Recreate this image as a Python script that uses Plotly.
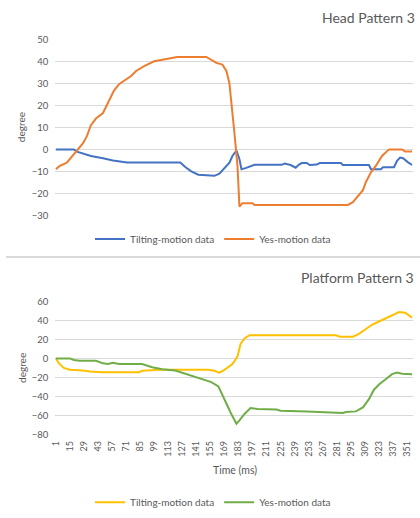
import plotly.graph_objects as go

# ---------------- data ----------------
# Head Pattern 3 — Tilting-motion data
head_tilt_t = [1, 19, 22, 28, 36, 48, 58, 72, 125, 130, 136, 143, 159, 164, 169, 174, 177, 181,
               184, 186, 190, 195, 199, 226, 229, 235, 240, 243, 246, 251, 254, 261, 264, 285,
               287, 313, 315, 325, 327, 338, 341, 344, 347, 352, 356]
head_tilt_v = [0, 0, -1, -2, -3, -4, -5, -6, -6, -8, -10, -11.5, -12, -11, -8.5, -6, -3, -0.5,
               -4.5, -9, -8.5, -7.7, -7, -7, -6.4, -7.1, -8.3, -7, -6.2, -6.2, -7.1, -6.9, -6.2, -6.2,
               -7.1, -7.1, -9, -9, -8.1, -8.1, -5.2, -3.7, -4, -5.9, -7.1]

# Head Pattern 3 — Yes-motion data
head_yes_t = [1, 5, 12, 18, 23, 28, 32, 36, 41, 48, 53, 59, 64, 71, 76, 81, 89, 99, 107, 114,
              122, 151, 155, 161, 167, 171, 174, 176, 179, 182, 184, 187, 197, 199, 292, 297, 302,
              307, 310, 315, 321, 326, 333, 346, 349, 356]
head_yes_v = [-9, -7.5, -6, -3, 0, 2.7, 6, 11, 14, 16.5, 21, 26.7, 29.6, 32, 33.3, 35.6, 37.8, 40,
              40.8, 41.2, 42, 42, 40.8, 39.3, 38.5, 35.6, 30, 22, 7.4, -7.4, -26, -24.4, -24.4,
              -25.2, -25.2, -24, -21.5, -18.5, -14.8, -10.4, -6.7, -3, 0, 0, -1, -1]

# Platform Pattern 3 — Tilting-motion data
plat_tilt_t = [1, 4, 9, 15, 28, 35, 48, 84, 87, 104, 153, 159, 164, 169, 177, 182, 185, 189, 194,
               280, 284, 297, 303, 310, 316, 323, 330, 336, 343, 349, 356]
plat_tilt_v = [0, -5, -10, -12, -12.8, -13.8, -14.5, -14.5, -13, -12, -12, -13, -15, -12, -6, 2,
               15, 21, 24.5, 24.5, 23, 23, 26, 31, 35.5, 39, 42.5, 46, 49, 48.3, 43]

# Platform Pattern 3 — Yes-motion data
plat_yes_t = [1, 15, 19, 25, 41, 48, 53, 58, 64, 87, 97, 107, 120, 130, 143, 156, 163, 168, 172,
              176, 181, 184, 189, 195, 202, 221, 225, 251, 267, 287, 290, 300, 307, 313, 318, 323,
              330, 336, 341, 346, 356]
plat_yes_v = [0, 0, -1.7, -2.4, -2.4, -5.2, -5.9, -4.5, -5.9, -5.9, -9.3, -11.4, -12.8, -16, -20.7,
              -25, -29.5, -42, -50, -59, -69, -65.5, -58.6, -52.4, -53.4, -54, -55.2, -55.9, -56.9,
              -57.6, -56.5, -55.9, -51.7, -43, -33, -27.6, -21.7, -16.6, -14.8, -16.2, -16.6]

x_tick_labels = [1, 15, 29, 43, 57, 71, 85, 99, 113, 127, 141, 155, 169, 183, 197, 211, 225,
                 239, 253, 267, 281, 295, 309, 323, 337, 351]
head_y_ticks = [-30, -20, -10, 0, 10, 20, 30, 40, 50]
plat_y_ticks = [-80, -60, -40, -20, 0, 20, 40, 60]

series_names = ["Tilting-motion data", "Yes-motion data"]
chart_titles = ["Head Pattern 3", "Platform Pattern 3"]

# ---------------- figure ----------------
W, H = 420, 518
FONT = "Lato, 'Open Sans', sans-serif"
TXT = "#595959"
GRID = "#d9d9d9"


def px_x(p):
    return p / W


def px_y(p):
    return 1 - p / H


fig = go.Figure()

fig.add_trace(go.Scatter(x=head_tilt_t, y=head_tilt_v, mode="lines", name=series_names[0],
                         line=dict(color="#4472C4", width=2), xaxis="x", yaxis="y", legend="legend"))
fig.add_trace(go.Scatter(x=head_yes_t, y=head_yes_v, mode="lines", name=series_names[1],
                         line=dict(color="#ED7D31", width=2), xaxis="x", yaxis="y", legend="legend"))
fig.add_trace(go.Scatter(x=plat_tilt_t, y=plat_tilt_v, mode="lines", name=series_names[0],
                         line=dict(color="#FFC000", width=2), xaxis="x2", yaxis="y2", legend="legend2"))
fig.add_trace(go.Scatter(x=plat_yes_t, y=plat_yes_v, mode="lines", name=series_names[1],
                         line=dict(color="#70AD47", width=2), xaxis="x2", yaxis="y2", legend="legend2"))

xdom = [px_x(50), px_x(412.5)]
xr = [0.5, 356.5]

common_y = dict(showgrid=True, gridcolor=GRID, gridwidth=1, zeroline=False, showline=False,
                ticks="", tickfont=dict(family=FONT, size=9.5, color=TXT), ticklabelstandoff=6,
                fixedrange=True)

fig.update_layout(
    width=W, height=H,
    margin=dict(l=0, r=0, t=0, b=0),
    paper_bgcolor="white", plot_bgcolor="white",
    font=dict(family=FONT, color=TXT),
    xaxis=dict(domain=xdom, range=xr, anchor="y", showgrid=False, zeroline=False,
               showticklabels=False, showline=False, ticks=""),
    yaxis=dict(domain=[px_y(214), px_y(34)], range=[-30, 50], tickvals=head_y_ticks,
               anchor="x", **common_y),
    xaxis2=dict(domain=xdom, range=xr, anchor="y2", showgrid=False, zeroline=False,
                showline=False, ticks="", tickvals=x_tick_labels,
                ticktext=[str(v) for v in x_tick_labels], tickangle=-90,
                tickfont=dict(family=FONT, size=9, color=TXT), ticklabelstandoff=4),
    yaxis2=dict(domain=[px_y(437.5), px_y(302)], range=[-80, 60], tickvals=plat_y_ticks,
                anchor="x2", **common_y),
    legend=dict(orientation="h", x=0.5, xanchor="center", y=px_y(238), yanchor="middle",
                font=dict(family=FONT, size=10, color=TXT), bgcolor="rgba(0,0,0,0)"),
    legend2=dict(orientation="h", x=0.5, xanchor="center", y=px_y(507), yanchor="middle",
                 font=dict(family=FONT, size=10, color=TXT), bgcolor="rgba(0,0,0,0)"),
    showlegend=True,
)

annotations = [
    dict(text=chart_titles[0], x=px_x(417), y=px_y(12), xanchor="right", yanchor="middle",
         font=dict(family=FONT, size=14, color=TXT)),
    dict(text=chart_titles[1], x=px_x(416), y=px_y(277), xanchor="right", yanchor="middle",
         font=dict(family=FONT, size=14, color=TXT)),
    dict(text="degree", x=px_x(16), y=px_y(124), textangle=-90, xanchor="center", yanchor="middle",
         font=dict(family=FONT, size=10, color=TXT)),
    dict(text="degree", x=px_x(16), y=px_y(370), textangle=-90, xanchor="center", yanchor="middle",
         font=dict(family=FONT, size=10, color=TXT)),
    dict(text="Time (ms)", x=px_x(232), y=px_y(474), xanchor="center", yanchor="middle",
         font=dict(family=FONT, size=10.5, color=TXT)),
]
for a in annotations:
    a.update(xref="paper", yref="paper", showarrow=False)
fig.update_layout(annotations=annotations)

fig.add_shape(type="line", xref="paper", yref="paper", x0=0, x1=1, y0=px_y(256.5), y1=px_y(256.5),
              line=dict(color="#d9d9d9", width=2))

fig.write_html("out.html")
